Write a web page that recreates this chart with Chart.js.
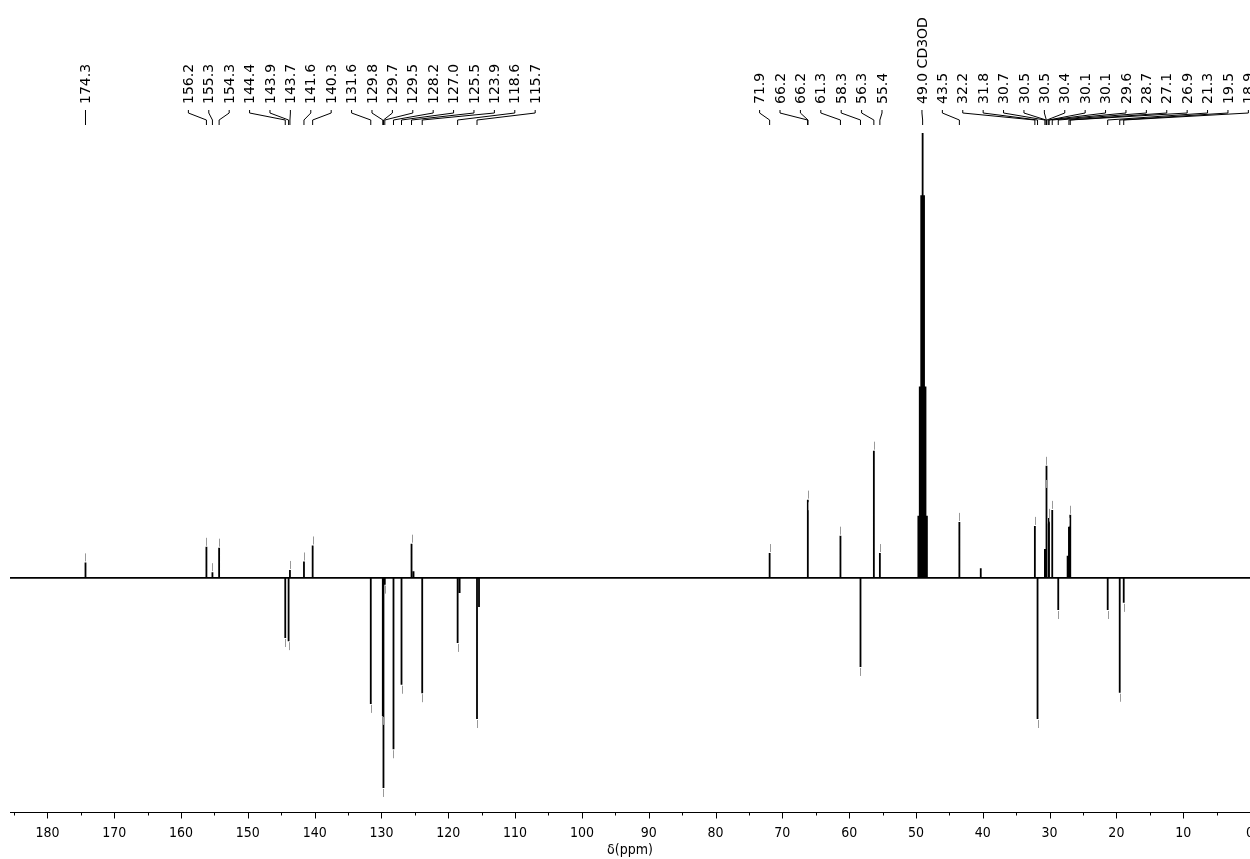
<!DOCTYPE html>
<html>
<head>
<meta charset="utf-8">
<title>13C DEPT spectrum</title>
<script src="https://cdn.jsdelivr.net/npm/chart.js@4.4.1/dist/chart.umd.min.js"></script>
<style>
  html, body { margin: 0; padding: 0; background: #fff; }
  #wrap { width: 1250px; height: 859px; position: relative; }
</style>
</head>
<body>
<div id="wrap"><canvas id="spectrum"></canvas></div>
<script>
// Picked (labelled) peaks: shift in ppm and height (CD3OD top = 100, negative = pointing down)
const peakPpm = [
    174.3,
    156.2, 155.3, 154.3, 144.4, 143.9, 143.7, 141.6, 140.3, 131.6,
    129.8, 129.7, 129.5, 128.2, 127.0, 125.5, 123.9, 118.6, 115.7,
    71.9, 66.22, 66.16, 61.3, 58.3, 56.3, 55.4,
    49.0, 43.5, 32.2, 31.8, 30.7, 30.52, 30.48, 30.4, 30.12, 30.08,
    29.6, 28.7, 27.1, 26.9, 21.3, 19.5, 18.9
];
const peakHeight = [
    3.5,
    7.0, 1.3, 6.8, -13.5, -14.2, 1.8, 3.7, 7.3, -28.3,
    -31, -47.2, -1.5, -38.5, -24, 7.7, -25.9, -14.6, -31.7,
    5.6, 17.6, 15, 9.5, -20, 28.6, 5.6,
    100, 12.6, 11.7, -31.7, 6.5, 25.2, 20, 12, 13.5, 12.5,
    15.3, -7.2, 11.5, 14.2, -7.2, -25.8, -5.6
];
const peakLabels = [
    '174.3',
    '156.2', '155.3', '154.3', '144.4', '143.9', '143.7', '141.6', '140.3', '131.6',
    '129.8', '129.7', '129.5', '128.2', '127.0', '125.5', '123.9', '118.6', '115.7',
    '71.9', '66.2', '66.2', '61.3', '58.3', '56.3', '55.4',
    '49.0 CD3OD', '43.5', '32.2', '31.8', '30.7', '30.5', '30.5', '30.4', '30.1', '30.1',
    '29.6', '28.7', '27.1', '26.9', '21.3', '19.5', '18.9'
];
const solventIndex = 26;

// Other lines without a label (solvent septet wings, shoulders, small peaks)
const extraPpm = [125.2, 118.3, 115.4, 49.64, 49.43, 49.21, 48.79, 48.57, 48.36, 40.3, 27.3];
const extraHeight = [1.5, -3.4, -6.5, 14, 43, 86, 86, 43, 14, 2.2, 5];

// Label groups: ppm where the first label of each group sits, and how many labels
const labelGroupStart = [174.3, 158.9, 73.4, 49.1];
const labelGroupSize = [1, 18, 7, 17];

// Axis
const xMax = 185.6;
const xMin = 0;
const majorTicks = [180, 170, 160, 150, 140, 130, 120, 110, 100, 90, 80, 70, 60, 50, 40, 30, 20, 10, 0];
const minorTicks = [185, 175, 165, 155, 145, 135, 125, 115, 105, 95, 85, 75, 65, 55, 45, 35, 25, 15, 5];

const FONT = '"DejaVu Sans", Verdana, sans-serif';
const TICK_FONT = '"DejaVu Sans Condensed", "DejaVu Sans", sans-serif';
const LABEL_GAP = 20.4;

// Turn every line into a stick on a flat baseline
function buildTrace() {
    const all = peakPpm.map((p, i) => ({ p, h: peakHeight[i] }))
        .concat(extraPpm.map((p, i) => ({ p, h: extraHeight[i] })));
    all.sort((a, b) => b.p - a.p);
    const pts = [{ x: xMax, y: 0 }];
    all.forEach(k => {
        pts.push({ x: k.p, y: 0 }, { x: k.p, y: k.h }, { x: k.p, y: 0 });
    });
    pts.push({ x: xMin, y: 0 });
    return pts;
}

const annotatePlugin = {
    id: 'annotate',
    afterDraw(chart) {
        const ctx = chart.ctx;
        const xs = chart.scales.x;
        const ys = chart.scales.y;
        const area = chart.chartArea;
        ctx.save();

        // peak pick markers (grey dashes at the tips)
        ctx.strokeStyle = '#999';
        ctx.lineWidth = 1;
        peakPpm.forEach((p, i) => {
            if (i === solventIndex) return;
            const x = Math.round(xs.getPixelForValue(p)) + 0.5;
            const y = ys.getPixelForValue(peakHeight[i]);
            const dir = peakHeight[i] >= 0 ? -1 : 1;
            ctx.beginPath();
            ctx.moveTo(x, y + dir * 1);
            ctx.lineTo(x, y + dir * 9);
            ctx.stroke();
        });

        // peak labels and connectors
        ctx.fillStyle = '#000';
        ctx.strokeStyle = '#000';
        ctx.font = '14px ' + FONT;
        let idx = 0;
        labelGroupStart.forEach((startPpm, g) => {
            const x0 = xs.getPixelForValue(startPpm);
            for (let k = 0; k < labelGroupSize[g]; k++, idx++) {
                const xl = x0 + k * LABEL_GAP;
                const xp = xs.getPixelForValue(peakPpm[idx]);
                ctx.save();
                ctx.translate(xl + 1, 104);
                ctx.rotate(-Math.PI / 2);
                ctx.textAlign = 'left';
                ctx.textBaseline = 'middle';
                ctx.fillText(peakLabels[idx], 0, 0);
                ctx.restore();

                ctx.beginPath();
                ctx.moveTo(xl, 110);
                ctx.lineTo(xl, 113);
                ctx.lineTo(xp, 120);
                ctx.lineTo(xp, 125);
                ctx.stroke();
            }
        });

        // x axis
        const yAxis = area.bottom + 0.5;
        ctx.strokeStyle = '#000';
        ctx.beginPath();
        ctx.moveTo(area.left, yAxis);
        ctx.lineTo(area.right, yAxis);
        ctx.stroke();
        ctx.beginPath();
        majorTicks.forEach(t => {
            const x = Math.round(xs.getPixelForValue(t)) + 0.5;
            ctx.moveTo(x, yAxis);
            ctx.lineTo(x, yAxis + 6);
        });
        minorTicks.forEach(t => {
            const x = Math.round(xs.getPixelForValue(t)) + 0.5;
            ctx.moveTo(x, yAxis);
            ctx.lineTo(x, yAxis + 3);
        });
        ctx.stroke();

        ctx.font = '14px ' + TICK_FONT;
        ctx.textAlign = 'center';
        ctx.textBaseline = 'middle';
        majorTicks.forEach(t => {
            ctx.fillText(String(t), xs.getPixelForValue(t), yAxis + 21);
        });
        ctx.fillText('δ(ppm)', (area.left + area.right) / 2, yAxis + 38);

        ctx.restore();
    }
};

new Chart(document.getElementById('spectrum'), {
    type: 'scatter',
    data: {
        datasets: [{
            data: buildTrace(),
            showLine: true,
            borderColor: '#000',
            borderWidth: 1.8,
            pointRadius: 0,
            tension: 0,
            clip: false
        }]
    },
    options: {
        responsive: true,
        maintainAspectRatio: false,
        animation: false,
        events: [],
        layout: { padding: { top: 133, bottom: 47, left: 10, right: 0 } },
        plugins: {
            legend: { display: false },
            tooltip: { enabled: false }
        },
        scales: {
            x: { type: 'linear', reverse: true, min: xMin, max: xMax, display: false },
            y: { type: 'linear', min: -52.6, max: 100, display: false }
        }
    },
    plugins: [annotatePlugin]
});
</script>
</body>
</html>
